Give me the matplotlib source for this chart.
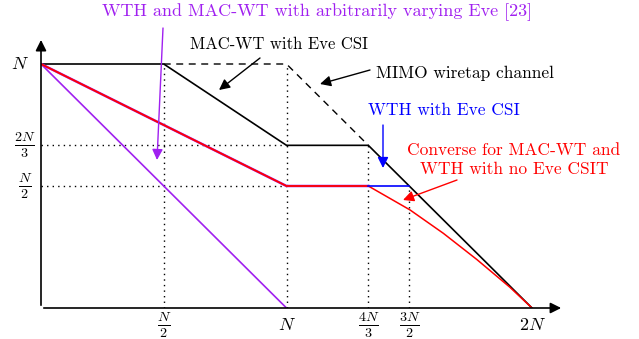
import matplotlib.pyplot as plt

plt.rcParams['font.family'] = ['cmr10', 'DejaVu Serif']
plt.rcParams['mathtext.fontset'] = 'cm'
plt.rcParams['axes.unicode_minus'] = False

# values in units of N
mac_wt_x = [0, 0.5, 1.0, 4/3, 2.0]
mac_wt_y = [1, 1, 2/3, 2/3, 0]

mimo_x = [0.5, 1.0, 4/3]
mimo_y = [1, 1, 2/3]

converse_x = [0, 1.0, 4/3]
converse_y = [1, 0.5, 0.5]
curve_x = [4/3, 1.503, 1.639, 1.775, 1.910, 2.0]
curve_y = [0.5, 0.402, 0.306, 0.199, 0.085, 0.0]

wth_csi_x = [4/3, 1.5]
wth_csi_y = [0.5, 0.5]

arb_x = [0, 1.0]
arb_y = [1, 0]

# dotted guide lines: (x0, y0, x1, y1)
guides = [(0.5, 0, 0.5, 1), (1.0, 0, 1.0, 1), (4/3, 0, 4/3, 2/3), (1.5, 0, 1.5, 0.5),
          (0, 2/3, 1.0, 2/3), (0, 0.5, 1.0, 0.5)]

xticks = [0.5, 1.0, 4/3, 1.5, 2.0]
xlabels = [r'$\frac{N}{2}$', r'$N$', r'$\frac{4N}{3}$', r'$\frac{3N}{2}$', r'$2N$']
yticks = [1.0, 2/3, 0.5]
ylabels = [r'$N$', r'$\frac{2N}{3}$', r'$\frac{N}{2}$']

purple = '#a020f0'

fig = plt.figure(figsize=(6.39, 3.39), dpi=100)
ax = fig.add_axes([41/639, 31/339, 2.2*245.5/639, 1.2*244/339])
ax.set_xlim(0, 2.2)
ax.set_ylim(0, 1.2)
ax.axis('off')

def px(x, y):
    # reference pixel -> data units
    return ((x - 41) / 245.5, (308 - y) / 244)

for x0, y0, x1, y1 in guides:
    ax.plot([x0, x1], [y0, y1], ls=(0, (1, 3)), color='black', lw=1)

ax.plot(arb_x, arb_y, color=purple, lw=1.2)
ax.plot(mimo_x, mimo_y, color='black', lw=1, ls=(0, (5, 4)))
ax.plot(mac_wt_x, mac_wt_y, color='black', lw=1.2)
ax.plot(converse_x, converse_y, color=purple, lw=1.8)
ax.plot(converse_x, converse_y, color='red', lw=1.3)
ax.plot(curve_x, curve_y, color='red', lw=1.1, solid_joinstyle='round')
ax.plot(wth_csi_x, wth_csi_y, color='blue', lw=1.2)

# axes arrows
ax.annotate('', xy=(2.13, 0), xytext=(0, 0),
            arrowprops=dict(arrowstyle='-|>', color='black', lw=1.2, mutation_scale=16))
ax.annotate('', xy=(0, 1.11), xytext=(0, 0),
            arrowprops=dict(arrowstyle='-|>', color='black', lw=1.2, mutation_scale=16))

for x, lab in zip(xticks, xlabels):
    if 'frac' in lab:
        ax.text(x, px(0, 325)[1], lab, ha='center', va='center', fontsize=14.5)
    else:
        ax.text(x, px(0, 325)[1], lab, ha='center', va='center', fontsize=13)
for y, lab in zip(yticks, ylabels):
    if 'frac' in lab:
        ax.text(px(25, 0)[0], y, lab, ha='center', va='center', fontsize=14.5)
    else:
        ax.text(px(20, 0)[0], y, lab, ha='center', va='center', fontsize=13)

arrow_kw = dict(arrowstyle='-|>', lw=1, mutation_scale=16, shrinkA=0, shrinkB=0)

def arrow(p_from, p_to, color):
    ax.annotate('', xy=px(*p_to), xytext=px(*p_from),
                arrowprops=dict(color=color, **arrow_kw))

fig.text(317/639, 1 - 12/339, 'WTH and MAC-WT with arbitrarily varying Eve [23]',
         color=purple, fontsize=13, ha='center', va='center')
arrow((163, 28), (157, 160), purple)

ax.text(*px(279, 44), 'MAC-WT with Eve CSI', fontsize=12, ha='center', va='center')
arrow((260, 58), (219, 90), 'black')

ax.text(*px(376, 73), 'MIMO wiretap channel', fontsize=12.5, ha='left', va='center')
arrow((370, 70), (320, 84), 'black')

ax.text(*px(444, 110), 'WTH with Eve CSI', color='blue', fontsize=12.5,
        ha='center', va='center')
arrow((383, 125), (383, 168), 'blue')

ax.text(*px(514, 160), 'Converse for MAC-WT and\nWTH with no Eve CSIT',
        color='red', fontsize=12.5, ha='center', va='center', linespacing=1.35)
arrow((457, 180), (403, 200), 'red')

fig.savefig('out.png', dpi=100)
